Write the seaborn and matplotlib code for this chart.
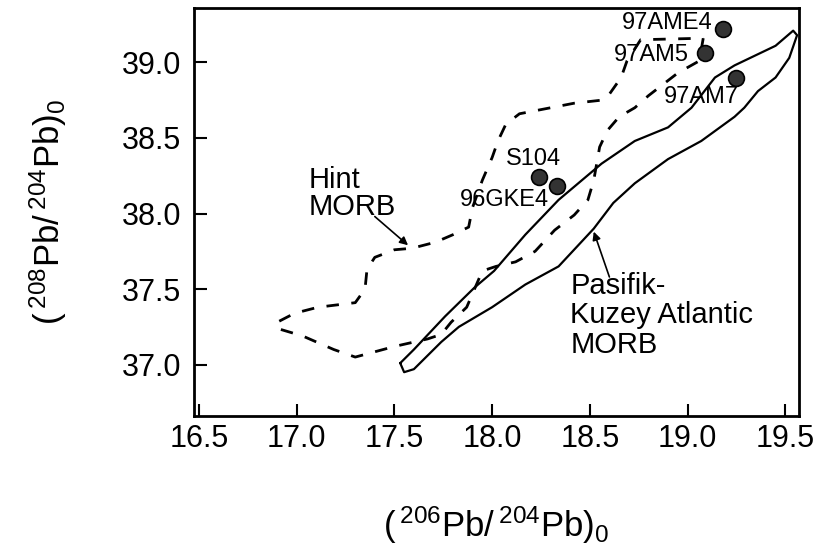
import matplotlib
matplotlib.use("Agg")
import matplotlib.pyplot as plt
import seaborn as sns
import pandas as pd

# Pacific - North Atlantic MORB field (solid outline)
pac_x = [17.53, 17.60, 17.76, 17.91, 18.01, 18.17, 18.34, 18.56, 18.73, 18.90,
         19.02, 19.14, 19.24, 19.45, 19.54, 19.56, 19.52, 19.45, 19.36, 19.29,
         19.24, 19.07, 18.90, 18.73, 18.62, 18.52, 18.34, 18.17, 18.00, 17.83,
         17.74, 17.60, 17.55, 17.53]
pac_y = [37.01, 37.10, 37.32, 37.51, 37.62, 37.86, 38.09, 38.33, 38.48, 38.57,
         38.70, 38.90, 38.98, 39.11, 39.21, 39.18, 39.03, 38.90, 38.81, 38.70,
         38.64, 38.48, 38.36, 38.20, 38.07, 37.90, 37.65, 37.53, 37.38, 37.25,
         37.15, 36.97, 36.95, 37.01]

# Indian MORB field (dashed outline)
ind_x = [19.08, 19.06, 18.95, 18.87, 18.80, 18.73, 18.65, 18.59, 18.55, 18.52,
         18.49, 18.42, 18.32, 18.22, 18.12, 18.02, 17.95, 17.91, 17.87, 17.79,
         17.74, 17.67, 17.50, 17.30, 17.19, 17.03, 16.90, 16.90, 16.99, 17.11,
         17.30, 17.35, 17.36, 17.40, 17.50, 17.59, 17.71, 17.80, 17.88, 17.90,
         17.95, 18.00, 18.03, 18.07, 18.14, 18.22, 18.42, 18.56, 18.60, 18.66,
         18.69, 18.76, 19.08]
ind_y = [39.16, 39.01, 38.93, 38.85, 38.78, 38.70, 38.64, 38.55, 38.44, 38.22,
         38.09, 37.99, 37.89, 37.75, 37.68, 37.65, 37.62, 37.50, 37.38, 37.28,
         37.20, 37.17, 37.12, 37.05, 37.10, 37.19, 37.24, 37.28, 37.34, 37.38,
         37.41, 37.50, 37.63, 37.71, 37.76, 37.77, 37.81, 37.86, 37.91, 38.04,
         38.22, 38.37, 38.48, 38.59, 38.66, 38.68, 38.73, 38.75, 38.79, 38.90,
         39.01, 39.15, 39.16]

# Samples
samples = ["97AME4", "97AM5", "97AM7", "S104", "96GKE4"]
pb206 = [19.18, 19.09, 19.25, 18.24, 18.33]
pb208 = [39.22, 39.06, 38.90, 38.24, 38.18]

x_ticks = [16.5, 17.0, 17.5, 18.0, 18.5, 19.0, 19.5]
y_ticks = [37.0, 37.5, 38.0, 38.5, 39.0]

sns.set_theme(style="ticks")
plt.rcParams["font.family"] = ["Liberation Sans", "DejaVu Sans"]
plt.rcParams["mathtext.fontset"] = "custom"
plt.rcParams["mathtext.rm"] = "Liberation Sans"
plt.rcParams["mathtext.it"] = "Liberation Sans:italic"
plt.rcParams["mathtext.bf"] = "Liberation Sans:bold"
plt.rcParams["text.color"] = "black"
plt.rcParams["axes.labelcolor"] = "black"

fig = plt.figure(figsize=(8.24, 5.51), dpi=100)
ax = fig.add_axes([0.2354, 0.245, 0.7343, 0.7405])

pac = pd.DataFrame({"x": pac_x, "y": pac_y})
ind = pd.DataFrame({"x": ind_x, "y": ind_y})
sns.lineplot(data=pac, x="x", y="y", sort=False, estimator=None, ax=ax,
             color="black", linewidth=1.6)
sns.lineplot(data=ind, x="x", y="y", sort=False, estimator=None, ax=ax,
             color="black", linewidth=2.0, dashes=False)
ax.lines[-1].set_dashes([4.5, 4.5])

pts = pd.DataFrame({"x": pb206, "y": pb208, "s": samples})
sns.scatterplot(data=pts, x="x", y="y", ax=ax, s=130, color="#333333",
                edgecolor="black", linewidth=1.2, zorder=5)

lab_fs = 17
ax.text(19.13, 39.26, "97AME4", ha="right", va="center", fontsize=lab_fs)
ax.text(19.005, 39.05, "97AM5", ha="right", va="center", fontsize=lab_fs)
ax.text(18.88, 38.77, "97AM7", ha="left", va="center", fontsize=lab_fs)
ax.text(18.07, 38.36, "S104", ha="left", va="center", fontsize=lab_fs)
ax.text(18.29, 38.09, "96GKE4", ha="right", va="center", fontsize=lab_fs)

fld_fs = 21
ax.text(17.06, 37.99, "Hint\nMORB", ha="left", va="baseline",
        fontsize=fld_fs, linespacing=0.95)
ax.text(18.40, 37.08, "Pasifik-\nKuzey Atlantic\nMORB", ha="left",
        va="baseline", fontsize=fld_fs, linespacing=1.05)

arrow = dict(arrowstyle="-|>", color="black", lw=1.2, mutation_scale=12,
             shrinkA=0, shrinkB=0)
ax.annotate("", xy=(17.57, 37.79), xytext=(17.40, 37.98), arrowprops=arrow)
ax.annotate("", xy=(18.52, 37.88), xytext=(18.60, 37.58), arrowprops=arrow)

ax.set_xlim(16.475, 19.57)
ax.set_ylim(36.66, 39.36)
ax.set_xticks(x_ticks)
ax.set_yticks(y_ticks)
ax.set_xticklabels([f"{v:.1f}" for v in x_ticks])
ax.set_yticklabels([f"{v:.1f}" for v in y_ticks])
ax.tick_params(axis="both", direction="in", length=9, width=1.5,
               labelsize=22, colors="black")
ax.tick_params(axis="x", pad=6)
ax.tick_params(axis="y", pad=9)
for sp in ax.spines.values():
    sp.set_visible(True)
    sp.set_linewidth(2.0)
    sp.set_color("black")

ax.set_xlabel(r"$(\,^{206}\mathrm{Pb}/\,^{204}\mathrm{Pb})_0$", fontsize=25,
              labelpad=36)
ax.set_ylabel(r"$(\,^{208}\mathrm{Pb}/\,^{204}\mathrm{Pb})_0$", fontsize=25,
              labelpad=38)

fig.savefig("out.png", dpi=100)
